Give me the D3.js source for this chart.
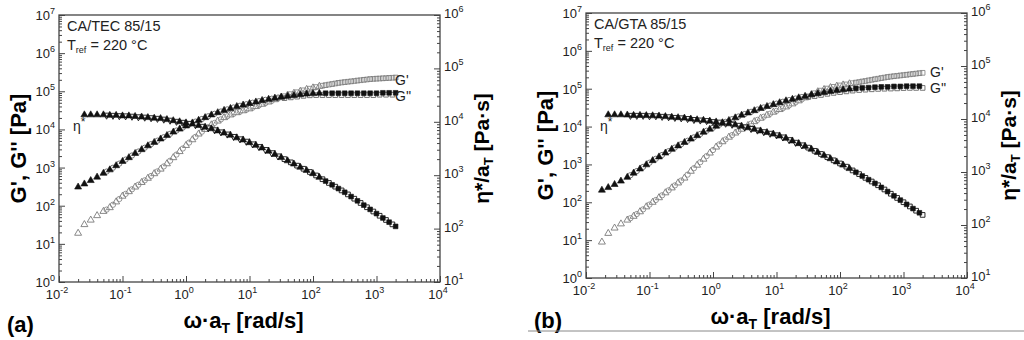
<!DOCTYPE html>
<html>
<head>
<meta charset="utf-8">
<script src="https://cdn.jsdelivr.net/npm/d3@7"></script>
<style>
body { margin: 0; background: #fff; }
svg { font-family: "Liberation Sans", Arial, sans-serif; }
</style>
</head>
<body>
<script>
// tick label exponents
var xExponents = [-2, -1, 0, 1, 2, 3, 4]
var gExponents = [0, 1, 2, 3, 4, 5, 6, 7]
var etaExponents = [1, 2, 3, 4, 5, 6]

// ---- CA/TEC 85/15 ----
// run A (triangles -> squares)
var tecOmegaA = [0.02, 0.0251, 0.0316, 0.0398, 0.0501, 0.0631, 0.0794, 0.1, 0.126, 0.158, 0.2, 0.251, 0.316, 0.398, 0.501, 0.631, 0.794, 1, 1.26, 1.58, 2, 2.51, 3.16, 3.98, 5.01, 6.31, 7.94, 10, 12.6, 15.8, 20, 25.1, 31.6, 39.8, 50.1, 63.1, 79.4, 100, 126, 158, 200, 251, 316, 398, 501, 631, 794, 1000, 1260, 1580, 2000]
var tecStorageA = [19, 32, 42, 55, 71, 89, 126, 178, 234, 309, 407, 525, 692, 912, 1260, 1820, 2630, 3800, 5370, 7590, 10000, 13200, 16600, 20400, 24000, 27500, 30900, 34700, 39800, 45700, 52500, 60300, 69200, 79400, 89100, 100000, 112000, 123000, 135000, 145000, 155000, 166000, 174000, 182000, 191000, 200000, 209000, 214000, 219000, 224000, 229000]
var tecLossA = [309, 372, 457, 562, 708, 871, 1120, 1450, 1820, 2340, 2950, 3720, 4570, 5620, 6920, 8510, 10200, 12300, 14800, 17400, 20400, 24000, 27500, 31600, 35500, 39800, 43700, 47900, 52500, 57500, 61700, 66100, 70800, 74100, 77600, 81300, 85100, 87100, 89100, 89100, 89100, 89100, 89100, 89100, 89100, 89100, 89100, 89100, 91200, 91200, 91200]
var tecEtaA = [null, 13500, 13500, 13500, 13500, 13200, 13200, 12900, 12900, 12600, 12300, 12000, 11700, 11500, 11000, 10500, 10000, 9550, 9120, 8510, 7940, 7410, 6760, 6170, 5620, 5010, 4570, 4070, 3630, 3240, 2820, 2450, 2140, 1860, 1620, 1410, 1230, 1070, 912, 776, 661, 562, 479, 398, 331, 275, 229, 191, 158, 132, 110]
// run B (circles -> squares)
var tecOmegaB = [0.0562, 0.0708, 0.0891, 0.112, 0.141, 0.178, 0.224, 0.282, 0.355, 0.447, 0.562, 0.708, 0.891, 1.12, 1.41, 1.78, 2.24, 2.82, 3.55, 4.47, 5.62, 7.08, 8.91, 11.2, 14.1, 17.8, 22.4, 28.2, 35.5, 44.7, 56.2, 70.8, 89.1, 112, 141, 178, 224, 282, 355, 447, 562, 708, 891, 1120, 1410, 1780]
var tecStorageB = [79, 106, 150, 204, 269, 355, 462, 603, 794, 1070, 1510, 2190, 3160, 4520, 6380, 8710, 11500, 14800, 18400, 22100, 25700, 29200, 32700, 37200, 42700, 49000, 56200, 64600, 74100, 84100, 94400, 106000, 117000, 129000, 140000, 150000, 160000, 170000, 178000, 186000, 195000, 204000, 211000, 216000, 221000, 226000]
var tecLossB = [785, 989, 1270, 1620, 2070, 2630, 3310, 4120, 5070, 6240, 7670, 9330, 11200, 13500, 16000, 18800, 22100, 25700, 29500, 33500, 37600, 41700, 45700, 50100, 55000, 59600, 63800, 68400, 66100, 69200, 72400, 75900, 78500, 79400, 79400, 79400, 79400, 79400, 79400, 79400, 79400, 79400, 79400, 81300, 81300, 81300]
var tecEtaB = [13300, 13200, 13000, 12900, 12700, 12400, 12200, 11900, 11600, 11200, 10700, 10200, 9770, 9330, 8810, 8220, 7670, 7080, 6460, 5890, 5310, 4790, 4320, 3850, 3430, 3020, 2630, 2290, 2000, 1740, 1510, 1320, 1150, 989, 841, 716, 610, 519, 437, 363, 302, 251, 209, 174, 145, 120]

// ---- CA/GTA 85/15 ----
var gtaOmegaA = [0.0178, 0.0224, 0.0282, 0.0355, 0.0447, 0.0562, 0.0708, 0.0891, 0.112, 0.141, 0.178, 0.224, 0.282, 0.355, 0.447, 0.562, 0.708, 0.891, 1.12, 1.41, 1.78, 2.24, 2.82, 3.55, 4.47, 5.62, 7.08, 8.91, 11.2, 14.1, 17.8, 22.4, 28.2, 35.5, 44.7, 56.2, 70.8, 89.1, 112, 141, 178, 224, 282, 355, 447, 562, 708, 891, 1120, 1410, 1780]
var gtaStorageA = [8.9, 15.1, 20.9, 26.9, 33.9, 42.7, 56.2, 75.9, 100, 132, 178, 240, 324, 437, 661, 955, 1380, 2000, 2880, 3980, 5250, 6760, 8510, 10700, 13500, 16600, 20000, 24000, 28200, 33100, 39800, 47900, 57500, 69200, 83200, 95500, 107000, 117000, 126000, 135000, 145000, 155000, 166000, 178000, 191000, 204000, 214000, 224000, 234000, 245000, 257000]
var gtaLossA = [209, 245, 295, 363, 457, 589, 759, 977, 1260, 1580, 2000, 2510, 3090, 3800, 4680, 5750, 7080, 8510, 10200, 12300, 14500, 17000, 20000, 22900, 26300, 30200, 33900, 38000, 42700, 47900, 52500, 57500, 63100, 69200, 74100, 79400, 85100, 89100, 93300, 97700, 102000, 105000, 107000, 110000, 112000, 112000, 115000, 115000, 117000, 117000, 117000]
var gtaEtaA = [null, 12000, 12000, 12000, 11900, 11700, 11700, 11600, 11500, 11400, 11100, 10800, 10600, 10400, 10000, 9660, 9440, 9120, 8810, 8510, 8130, 7760, 7330, 6840, 6380, 5960, 5560, 5190, 4790, 4320, 3850, 3430, 3050, 2690, 2340, 2040, 1780, 1550, 1350, 1160, 989, 841, 716, 610, 513, 427, 355, 295, 245, 204, 170]
var gtaOmegaB = [0.0501, 0.0631, 0.0794, 0.1, 0.126, 0.158, 0.2, 0.251, 0.316, 0.398, 0.501, 0.631, 0.794, 1, 1.26, 1.58, 2, 2.51, 3.16, 3.98, 5.01, 6.31, 7.94, 10, 12.6, 15.8, 20, 25.1, 31.6, 39.8, 50.1, 63.1, 79.4, 100, 126, 158, 200, 251, 316, 398, 501, 631, 794, 1000, 1260, 1580, 2000]
var gtaStorageB = [38, 49, 65, 87, 115, 153, 207, 279, 376, 537, 794, 1150, 1660, 2400, 3390, 4570, 5960, 7590, 9550, 12000, 15000, 18200, 21900, 26000, 30500, 36300, 43700, 52500, 63100, 75900, 89100, 101000, 112000, 122000, 130000, 140000, 150000, 160000, 172000, 184000, 197000, 209000, 219000, 229000, 240000, 251000, 263000]
var gtaLossB = [519, 668, 861, 1110, 1410, 1780, 2240, 2790, 3430, 4220, 5190, 6380, 7760, 9330, 11200, 13300, 15700, 18400, 21400, 24500, 28200, 32000, 35900, 40300, 45200, 50100, 55000, 60300, 60300, 63800, 68400, 73300, 77600, 81300, 85100, 89100, 92300, 94400, 96600, 98900, 100000, 101000, 102000, 104000, 105000, 105000, 105000]
var gtaEtaB = [11700, 11700, 11700, 11500, 11500, 11200, 11000, 10700, 10500, 10200, 9770, 9550, 9330, 8910, 8710, 8320, 7940, 7590, 7080, 6610, 6170, 5750, 5370, 5010, 4570, 4070, 3630, 3240, 2880, 2510, 2190, 1910, 1660, 1450, 1260, 1070, 912, 776, 661, 562, 468, 389, 324, 269, 224, 186, 155]

var width = 1024
var height = 340

var svg = d3.select("body")
            .append("svg")
            .attr("width", width)
            .attr("height", height)

var panels = [
  {left: 59, right: 440, top: 15, bottom: 282, letter: "(a)", sample: "CA/TEC 85/15",
   runA: [tecOmegaA, tecStorageA, tecLossA, tecEtaA],
   runB: [tecOmegaB, tecStorageB, tecLossB, tecEtaB],
   gp: [395, 85], gpp: [395, 101], eta: [73, 131]},
  {left: 586, right: 967, top: 13, bottom: 278, letter: "(b)", sample: "CA/GTA 85/15",
   runA: [gtaOmegaA, gtaStorageA, gtaLossA, gtaEtaA],
   runB: [gtaOmegaB, gtaStorageB, gtaLossB, gtaEtaB],
   gp: [930, 77], gpp: [930, 93], eta: [600, 131]}
]

var isDecade = function(t) {
  var l = Math.log10(t)
  return Math.abs(l - Math.round(l)) < 1e-6
}

var powerLabel = function(g, xPos, yPos, exp, anchor) {
  var t = g.append("text")
           .attr("x", xPos)
           .attr("y", yPos)
           .attr("text-anchor", anchor)
           .attr("font-size", 13)
           .attr("fill", "#222")
  t.append("tspan").text("10")
  t.append("tspan").attr("dy", -6).attr("font-size", 9).text(exp)
}

var drawMarkers = function(g, omega, vals, x, y, shapeOf, fill, stroke, sw, flip) {
  var pts = omega.map(function(w, i) { return {w: w, v: vals[i]} })
                 .filter(function(d) { return d.v != null })
  g.selectAll(null)
   .data(pts)
   .enter()
   .append("path")
   .attr("transform", function(d) {
     var s = shapeOf(d.w)
     return "translate(" + x(d.w) + "," + y(d.v) + ")" + (flip && s == d3.symbolTriangle ? " rotate(180)" : "")
   })
   .attr("d", function(d) {
     var s = shapeOf(d.w)
     var size = s == d3.symbolTriangle ? 21 : (s == d3.symbolSquare ? 22 : 22)
     return d3.symbol().type(s).size(size)()
   })
   .attr("fill", fill)
   .attr("stroke", stroke)
   .attr("stroke-width", sw)
}

var shapeA = function(w) { return w < 150 ? d3.symbolTriangle : d3.symbolSquare }
var shapeB = function(w) { return w < 30 ? d3.symbolCircle : d3.symbolSquare }
var shapeEtaB = function(w) { return w < 30 ? d3.symbolTriangle : d3.symbolSquare }

var drawPanel = function(p) {
  var x = d3.scaleLog().domain([1e-2, 1e4]).range([p.left, p.right])
  var yG = d3.scaleLog().domain([1, 1e7]).range([p.bottom, p.top])
  var yEta = d3.scaleLog().domain([10, 1e6]).range([p.bottom, p.top])

  var g = svg.append("g")

  // data
  var dots = g.append("g")
  drawMarkers(dots, p.runB[0], p.runB[1], x, yG, shapeB, "none", "#8a8a8a", 0.9, false)
  drawMarkers(dots, p.runA[0], p.runA[1], x, yG, shapeA, "none", "#7a7a7a", 0.9, false)
  drawMarkers(dots, p.runB[0], p.runB[2], x, yG, shapeB, "none", "#666", 0.9, false)
  drawMarkers(dots, p.runA[0], p.runA[2], x, yG, shapeA, "#111", "#111", 0.6, false)
  drawMarkers(dots, p.runB[0], p.runB[3], x, yEta, shapeEtaB, "#fff", "#111", 0.9, true)
  drawMarkers(dots, p.runA[0], p.runA[3], x, yEta, shapeA, "#111", "#111", 0.6, false)

  // axes
  var xMajor = xExponents.map(function(e) { return Math.pow(10, e) })
  var xMinor = x.ticks().filter(function(t) { return !isDecade(t) })
  var gMajor = gExponents.map(function(e) { return Math.pow(10, e) })
  var gMinor = yG.ticks().filter(function(t) { return !isDecade(t) })
  var eMajor = etaExponents.map(function(e) { return Math.pow(10, e) })
  var eMinor = yEta.ticks().filter(function(t) { return !isDecade(t) })

  var axes = [
    [d3.axisBottom(x).tickValues(xMajor).tickSize(-6), "translate(0," + p.bottom + ")"],
    [d3.axisBottom(x).tickValues(xMinor).tickSize(-3), "translate(0," + p.bottom + ")"],
    [d3.axisLeft(yG).tickValues(gMajor).tickSize(-6), "translate(" + p.left + ",0)"],
    [d3.axisLeft(yG).tickValues(gMinor).tickSize(-3), "translate(" + p.left + ",0)"],
    [d3.axisRight(yEta).tickValues(eMajor).tickSize(-6), "translate(" + p.right + ",0)"],
    [d3.axisRight(yEta).tickValues(eMinor).tickSize(-3), "translate(" + p.right + ",0)"]
  ]
  axes.forEach(function(a) {
    var ag = g.append("g")
              .attr("transform", a[1])
              .call(a[0].tickSizeOuter(0).tickFormat(""))
    ag.select(".domain").remove()
    ag.selectAll(".tick line").attr("stroke", "#444").attr("stroke-width", 1)
  })

  g.append("rect")
   .attr("x", p.left)
   .attr("y", p.top)
   .attr("width", p.right - p.left)
   .attr("height", p.bottom - p.top)
   .attr("fill", "none")
   .attr("stroke", "#444")
   .attr("stroke-width", 1.3)

  // tick labels
  xExponents.forEach(function(e) { powerLabel(g, x(Math.pow(10, e)) - 2, p.bottom + 17, e, "middle") })
  gExponents.forEach(function(e) { powerLabel(g, p.left - 4, yG(Math.pow(10, e)) + 5, e, "end") })
  etaExponents.forEach(function(e) { powerLabel(g, p.right + 4, yEta(Math.pow(10, e)) + 3, e, "start") })

  // axis titles
  var cx = (p.left + p.right) / 2
  var cy = (p.top + p.bottom) / 2
  var xt = g.append("text")
            .attr("x", cx - 6)
            .attr("y", p.bottom + 46)
            .attr("text-anchor", "middle")
            .attr("font-size", 22)
            .attr("font-weight", "bold")
  xt.append("tspan").text("ω·a")
  xt.append("tspan").attr("font-size", 14).attr("dy", 5).text("T")
  xt.append("tspan").attr("dy", -5).text(" [rad/s]")

  g.append("text")
   .attr("transform", "translate(" + (p.left - 33) + "," + cy + ") rotate(-90)")
   .attr("text-anchor", "middle")
   .attr("font-size", 22)
   .attr("font-weight", "bold")
   .text("G', G'' [Pa]")

  var rt = g.append("text")
            .attr("transform", "translate(" + (p.right + 49) + "," + cy + ") rotate(-90)")
            .attr("text-anchor", "middle")
            .attr("font-size", 21)
            .attr("font-weight", "bold")
  rt.append("tspan").text("η*/a")
  rt.append("tspan").attr("font-size", 13).attr("dy", 4).text("T")
  rt.append("tspan").attr("dy", -4).text(" [Pa·s]")

  g.append("text")
   .attr("x", p.left - 52)
   .attr("y", p.bottom + 50)
   .attr("font-size", 22)
   .attr("font-weight", "bold")
   .text(p.letter)

  // annotations
  g.append("text")
   .attr("x", p.left + 8)
   .attr("y", p.top + 16)
   .attr("font-size", 14.5)
   .attr("fill", "#222")
   .text(p.sample)
  var tr = g.append("text")
            .attr("x", p.left + 8)
            .attr("y", p.top + 35)
            .attr("font-size", 14.5)
            .attr("fill", "#222")
  tr.append("tspan").text("T")
  tr.append("tspan").attr("font-size", 9).attr("dy", 3).text("ref")
  tr.append("tspan").attr("dy", -3).text(" = 220 °C")

  g.append("text").attr("x", p.gp[0]).attr("y", p.gp[1]).attr("font-size", 14).attr("fill", "#222").text("G'")
  g.append("text").attr("x", p.gpp[0]).attr("y", p.gpp[1]).attr("font-size", 14).attr("fill", "#222").text("G''")
  var et = g.append("text").attr("x", p.eta[0]).attr("y", p.eta[1]).attr("font-size", 14).attr("fill", "#222")
  et.append("tspan").text("η")
  et.append("tspan").attr("font-size", 12).attr("dy", -5).text("*")
}

panels.forEach(drawPanel)

// rule under panel (b)
svg.append("line")
   .attr("x1", 528)
   .attr("x2", 1024)
   .attr("y1", 331)
   .attr("y2", 331)
   .attr("stroke", "#888")
   .attr("stroke-width", 1)
</script>
</body>
</html>
